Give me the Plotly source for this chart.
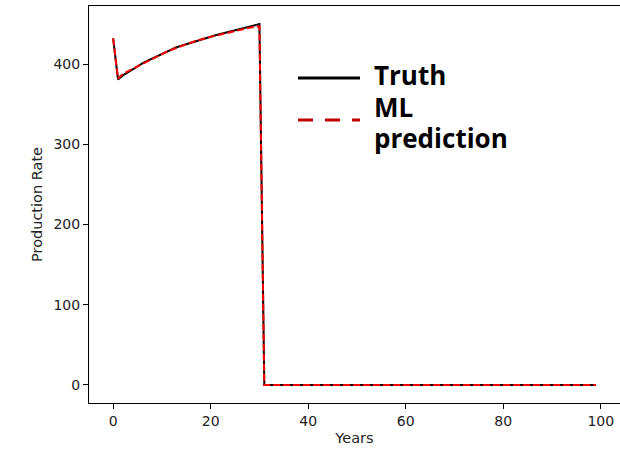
import plotly.graph_objects as go

years = list(range(100))
truth = [432, 381, 386, 390, 394, 397.5, 401, 404, 407, 410,
         413, 416, 418.5, 421, 423, 425, 427, 429, 431, 433,
         434.5, 436, 437.5, 439, 440.5, 442, 443.5, 445, 446.5, 448,
         450] + [0] * 69
prediction = [432, 382, 388, 391, 394.5, 398, 401, 404, 407, 410,
              413, 415.5, 418, 420.5, 423, 425, 427, 429, 431, 432.5,
              434, 435.5, 437, 438.5, 440, 441.5, 443, 444.5, 445.5, 446.5,
              447] + [0] * 69

FONT = "DejaVu Sans"
LEG_FONT = "Open Sans"
fig = go.Figure()
fig.add_trace(go.Scatter(x=years, y=truth, mode="lines", name="Truth",
                         line=dict(color="black", width=2)))
fig.add_trace(go.Scatter(x=years, y=prediction, mode="lines", name="ML prediction",
                         line=dict(color="#ff0000", width=2, dash="7px,3px")))

axis_common = dict(showgrid=False, zeroline=False, showline=True, linecolor="black",
                   linewidth=1.1, ticks="outside", ticklen=5, tickwidth=1.1,
                   tickcolor="black", tickfont=dict(family=FONT, size=14, color="#222"))
fig.update_xaxes(range=[-4.95, 103.95], tickvals=[0, 20, 40, 60, 80, 100], mirror=True,
                 title=dict(text="Years", font=dict(family=FONT, size=14.5, color="#222"), standoff=5),
                 **axis_common)
fig.update_yaxes(range=[-22.5, 472.5], tickvals=[0, 100, 200, 300, 400], mirror=False,
                 title=dict(text="Production Rate", font=dict(family=FONT, size=14.5, color="#222"), standoff=7),
                 **axis_common)

# legend drawn manually (matplotlib style)
fig.add_shape(type="line", xref="paper", yref="paper", x0=0.3936, x1=0.5104, y0=0.8186, y1=0.8186,
              line=dict(color="black", width=3))
fig.add_shape(type="line", xref="paper", yref="paper", x0=0.3936, x1=0.5104, y0=0.713, y1=0.713,
              line=dict(color="#c00000", width=3, dash="15px,12px"))
for txt, yp in [("Truth", 0.826), ("ML", 0.746), ("prediction", 0.668)]:
    fig.add_annotation(text="<b>%s</b>" % txt, xref="paper", yref="paper", x=0.533, y=yp,
                       xanchor="left", yanchor="middle", showarrow=False,
                       font=dict(family=LEG_FONT, size=26, color="black"))

fig.update_layout(width=620, height=451, margin=dict(l=89, r=0, t=6, b=48),
                  plot_bgcolor="white", paper_bgcolor="white", showlegend=False)
fig.write_html("out.html")
